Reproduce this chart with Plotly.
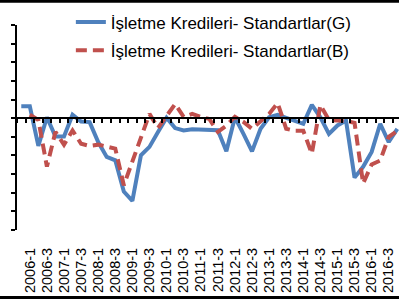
import plotly.graph_objects as go

# Quarters 2005-4 .. 2016-4
quarters = ["2005-4"] + [f"{y}-{q}" for y in range(2006, 2017) for q in range(1, 5)]
label_quarters = [f"{y}-{q}" for y in range(2006, 2017) for q in (1, 3)]

blue_G = [6.4, 6.4, -14.9, 0.5, -9.8, -9.8, 1.8, -1.8, -2.1, -12.8,
          -20.8, -22.6, -39.4, -44.4, -19.9, -15.4, -7.4, 0.3, -5.3, -6.6,
          -6.0, -6.0, -6.0, -6.5, -17.8, 0.5, -8.4, -17.8, -5.7, 0.5,
          1.8, 0.2, -1.3, -3.0, 7.1, 0.5, -8.4, -3.9, -1.3, -31.9,
          -26.1, -18.1, -3.0, -12.8, -5.7]
red_B = [None, 1.8, -1.0, -26.0, -7.3, -14.2, -6.6, -13.7, -14.9, -14.2,
         -15.4, -16.3, -36.0, -23.2, -9.4, 2.3, -5.2, 1.0, 7.6, 0.7,
         2.3, 0.7, -0.4, -7.3, -4.0, 0.7, -2.0, -5.7, -2.0, 2.3,
         8.1, -5.7, -6.8, -6.8, -19.0, 7.0, -1.0, -1.0, -1.5, -2.5,
         -35.0, -24.8, -22.7, -10.0, -6.8]
y_ticks = list(range(-60, 51, 10))

FONT = "Liberation Sans, Arial, sans-serif"
BLUE = "#4F81BD"
RED = "#C0504D"

fig = go.Figure()
fig.add_trace(go.Scatter(x=quarters, y=blue_G, mode="lines",
                         name="İşletme Kredileri- Standartlar(G)",
                         legendgroup="g",
                         line=dict(color=BLUE, width=4)))
fig.add_trace(go.Scatter(x=quarters, y=red_B, mode="lines",
                         name="İşletme Kredileri- Standartlar(B)",
                         legendgroup="b",
                         line=dict(color=RED, width=4, dash="11px,6px")))
# helper trace so the zero-line axis knows the categories
fig.add_trace(go.Scatter(x=quarters, y=[None] * len(quarters), xaxis="x2",
                         mode="lines", showlegend=False, hoverinfo="skip"))

xr = [-0.5, 44.2]
fig.update_layout(
    width=399, height=300,
    margin=dict(l=17, r=0, t=25, b=70, autoexpand=False),
    paper_bgcolor="white", plot_bgcolor="white",
    font=dict(family=FONT, color="black"),
    showlegend=True,
    legend=dict(x=0.141, y=1.1, xanchor="left", yanchor="top",
                bgcolor="rgba(0,0,0,0)", font=dict(size=17, family=FONT),
                tracegroupgap=3),
    xaxis=dict(type="category", categoryorder="array", categoryarray=quarters,
               range=xr, showline=False, showgrid=False, zeroline=False,
               automargin=False,
               ticks="", tickmode="array", tickvals=label_quarters,
               ticktext=label_quarters, tickangle=-90,
               tickfont=dict(size=14.5, family=FONT), ticklabelstandoff=14),
    xaxis2=dict(type="category", categoryorder="array", categoryarray=quarters,
                overlaying="x", anchor="free", position=60 / 110,
                range=xr, showline=True, linecolor="black", linewidth=1.5,
                automargin=False,
                ticks="outside", ticklen=4, tickwidth=1.5, tickcolor="black",
                tickson="boundaries", tickmode="linear", tick0=0, dtick=1,
                showticklabels=False, showgrid=False, zeroline=False),
    yaxis=dict(range=[-60, 50], tickmode="array", tickvals=y_ticks,
               showline=True, linecolor="black", linewidth=1.5,
               automargin=False,
               ticks="outside", ticklen=4, tickwidth=1.5, tickcolor="black",
               showgrid=False, zeroline=False,
               tickfont=dict(size=14, family=FONT), ticklabelstandoff=12),
    shapes=[
        dict(type="line", xref="paper", yref="paper", x0=-0.2, x1=1.2,
             y0=(230 - 1.3) / 205, y1=(230 - 1.3) / 205,
             line=dict(color="black", width=3)),
        dict(type="line", xref="paper", yref="paper", x0=-0.2, x1=1.2,
             y0=(230 - 297.5) / 205, y1=(230 - 297.5) / 205,
             line=dict(color="black", width=3)),
    ],
)

fig.write_html("out.html")
